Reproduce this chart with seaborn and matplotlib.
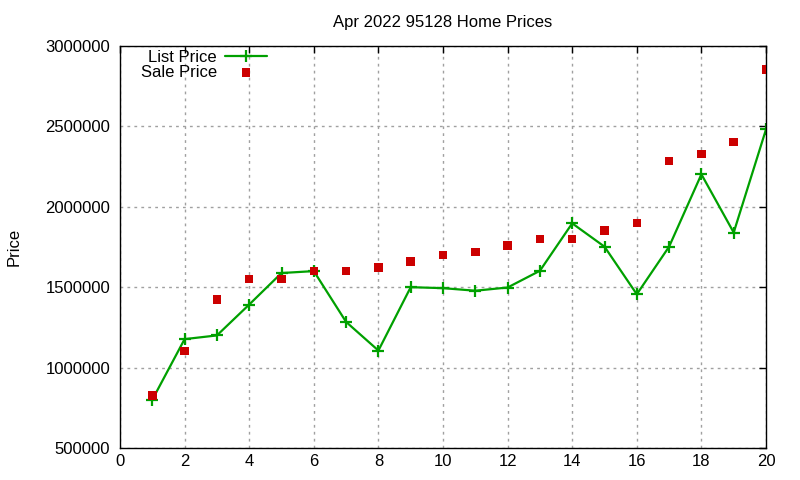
import matplotlib
matplotlib.use("Agg")
import matplotlib.pyplot as plt
import seaborn as sns
import pandas as pd

months = list(range(1, 21))
list_price = [800000, 1177000, 1200000, 1392000, 1588000, 1600000, 1284000, 1106000,
              1500000, 1494000, 1478000, 1498000, 1602000, 1897000, 1752000, 1456000,
              1752000, 2202000, 1840000, 2481000]
sale_price = [828000, 1102000, 1422000, 1552000, 1552000, 1602000, 1602000, 1621000,
              1659000, 1701000, 1719000, 1758000, 1801000, 1801000, 1851000, 1900000,
              2285000, 2329000, 2403000, 2855000]
title = "Apr 2022 95128 Home Prices"

df = pd.DataFrame({"x": months, "list": list_price, "sale": sale_price})

sns.set_style("white")
plt.rcParams['font.family'] = ['Liberation Sans', 'DejaVu Sans']
plt.rcParams['text.color'] = 'black'
plt.rcParams['axes.labelcolor'] = 'black'

fig = plt.figure(figsize=(8, 4.8), dpi=100)
ax = fig.add_axes([0.15, 0.0667, 0.8075, 0.8375])

green = "#00a000"
red = "#cc0000"

sns.lineplot(data=df, x="x", y="list", ax=ax, color=green, linewidth=1.6,
             marker="+", markersize=8, markeredgewidth=1.6, markeredgecolor=green,
             label="List Price")
sns.scatterplot(data=df, x="x", y="sale", ax=ax, color=red, marker="s", s=38,
                edgecolor="none", linewidth=0, label="Sale Price", zorder=3)

ax.set_xlim(0, 20)
ax.set_ylim(500000, 3000000)
ax.set_xticks(range(0, 21, 2))
ax.set_yticks(range(500000, 3000001, 500000))
ax.set_yticklabels([str(v) for v in range(500000, 3000001, 500000)])
ax.tick_params(direction="in", length=5, width=1, top=True, right=True,
               labelsize=12, colors="black", pad=7)
ax.tick_params(axis="x", pad=4)
for s in ax.spines.values():
    s.set_color("black")
    s.set_linewidth(1)
ax.grid(True, color="#a0a0a0", linestyle=(0, (2, 3)), linewidth=1)
ax.set_xlabel("")
ax.set_ylabel("Price", fontsize=12, color="black")
ax.yaxis.set_label_coords(-0.153, 0.5)
ax.set_title(title, fontsize=12, pad=14, color="black")

leg = ax.legend(loc="upper right", bbox_to_anchor=(0.2276, 0.991), frameon=False,
                markerfirst=False, fontsize=12, handlelength=2.5,
                handletextpad=0.5, labelspacing=0.0, borderaxespad=0.0,
                borderpad=0.0)
for t in leg.get_texts():
    t.set_color("black")

fig.savefig("out.png", dpi=100)
